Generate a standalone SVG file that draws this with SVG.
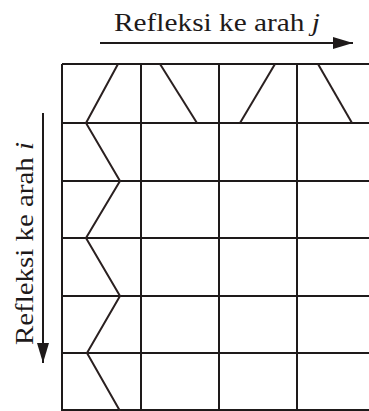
<svg xmlns="http://www.w3.org/2000/svg" width="369" height="411" viewBox="0 0 369 411">
<style>
.g{stroke:#1e1a1a;stroke-width:2;fill:none}
.z{stroke:#2a2020;stroke-width:2;fill:none;stroke-linejoin:miter}
.t{font-size:26px;fill:#1e1a1a}
</style>
<defs>
<marker id="ah2" markerWidth="20" markerHeight="12" refX="20" refY="6" orient="auto" markerUnits="userSpaceOnUse" viewBox="0 0 20 12">
<path d="M0,0 L20,6 L0,12 Z" fill="#1e1a1a"/>
</marker>
</defs>
<rect width="369" height="411" fill="#fff"/>
<g id="grid">
<path class="g" d="M62,64 V411 M141,64 V411 M219,64 V411 M297,64 V411 M62,64 H369 M62,123 H369 M62,181 H369 M62,238 H369 M62,296 H369 M62,353 H369 M62,410 H369"/>
</g>
<g id="zigzag">
<path class="z" d="M118,64 L86,123 L120,181 L86,238 L120,296 L87,353 L120,411"/>
<path class="z" d="M160,64 L197,123"/>
<path class="z" d="M275,64 L240,123"/>
<path class="z" d="M318,64 L352,123"/>
</g>
<g id="connectors">
<line x1="100" y1="43" x2="353" y2="43" stroke="#1e1a1a" stroke-width="2" marker-end="url(#ah2)"/>
<line x1="43" y1="113" x2="43" y2="363" stroke="#1e1a1a" stroke-width="2" marker-end="url(#ah2)"/>
</g>
<g id="label-j">
<text class="t" font-family="'Liberation Serif','Times New Roman','DejaVu Serif',serif" x="114" y="31" textLength="206" lengthAdjust="spacingAndGlyphs">Refleksi ke arah <tspan font-style="italic">j</tspan></text>
</g>
<g id="label-i">
<text class="t" font-family="'Liberation Serif','Times New Roman','DejaVu Serif',serif" transform="translate(33,345) rotate(-90)" textLength="203" lengthAdjust="spacingAndGlyphs">Refleksi ke arah <tspan font-style="italic">i</tspan></text>
</g>
</svg>
